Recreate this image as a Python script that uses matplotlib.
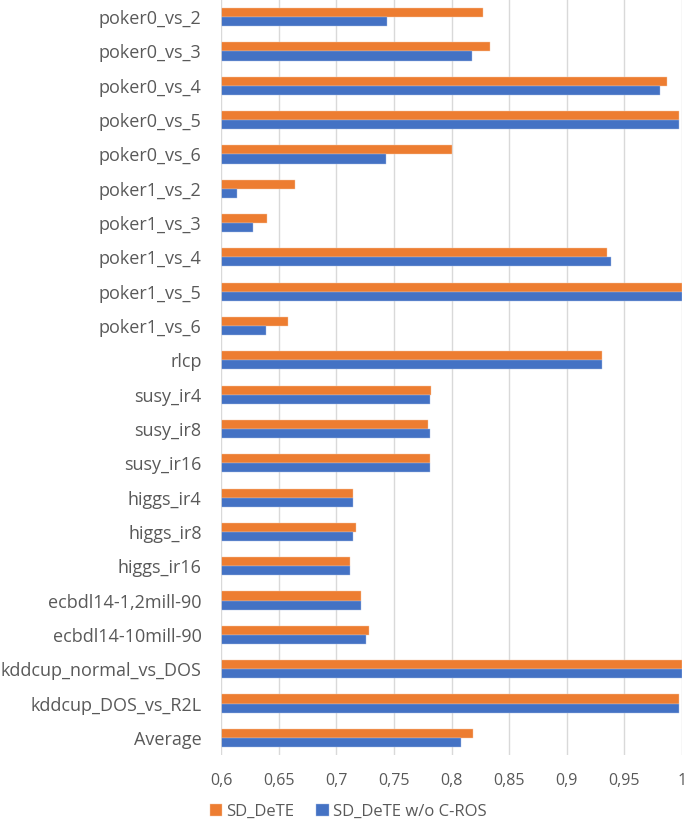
import matplotlib
matplotlib.use("Agg")
import matplotlib.pyplot as plt
import numpy as np

plt.rcParams['font.family'] = ['Open Sans', 'DejaVu Sans']

categories = ["poker0_vs_2", "poker0_vs_3", "poker0_vs_4", "poker0_vs_5", "poker0_vs_6",
              "poker1_vs_2", "poker1_vs_3", "poker1_vs_4", "poker1_vs_5", "poker1_vs_6",
              "rlcp", "susy_ir4", "susy_ir8", "susy_ir16", "higgs_ir4", "higgs_ir8",
              "higgs_ir16", "ecbdl14-1,2mill-90", "ecbdl14-10mill-90",
              "kddcup_normal_vs_DOS", "kddcup_DOS_vs_R2L", "Average"]
sd_dete = [0.827, 0.833, 0.987, 0.997, 0.800, 0.664, 0.640, 0.935, 1.0, 0.658,
           0.931, 0.7825, 0.780, 0.781, 0.7145, 0.7174, 0.7117, 0.7218, 0.728,
           1.0, 0.997, 0.819]
sd_dete_wo = [0.744, 0.818, 0.981, 0.997, 0.743, 0.614, 0.628, 0.938, 1.0, 0.639,
              0.931, 0.781, 0.781, 0.781, 0.7145, 0.7145, 0.7117, 0.7218, 0.726,
              1.0, 0.997, 0.808]
xticks = [0.6, 0.65, 0.7, 0.75, 0.8, 0.85, 0.9, 0.95, 1.0]
xtick_labels = ["0,6", "0,65", "0,7", "0,75", "0,8", "0,85", "0,9", "0,95", "1"]

orange = "#ED7D31"
blue = "#4472C4"
gray_text = "#595959"

fig = plt.figure(figsize=(6.85, 8.19), dpi=100)
ax = fig.add_axes([221 / 685, 64 / 819, 461 / 685, 755 / 819])

n = len(categories)
y = np.arange(n)
h = 0.265
ax.barh(y - h / 2, sd_dete, height=h, left=0, color=orange, label="SD_DeTE",
        edgecolor="#F6C9A8", linewidth=0.3, zorder=3)
ax.barh(y + h / 2, sd_dete_wo, height=h, left=0, color=blue, label="SD_DeTE w/o C-ROS",
        edgecolor="#A9BDE5", linewidth=0.3, zorder=3)

ax.set_xlim(0.6, 1.0)
ax.set_ylim(n - 0.5, -0.5)
ax.set_yticks(y)
ax.set_yticklabels(categories, fontsize=13, color=gray_text)
ax.set_xticks(xticks)
ax.set_xticklabels(xtick_labels, fontsize=11.5, color=gray_text)
ax.tick_params(axis='both', length=0)
ax.tick_params(axis='y', pad=14)
ax.tick_params(axis='x', pad=13)
ax.grid(axis='x', color="#D9D9D9", linewidth=1, zorder=0)
for s in ax.spines.values():
    s.set_visible(False)
ax.axvline(0.6, color="#D9D9D9", linewidth=1.2, zorder=4)

handles, labels = ax.get_legend_handles_labels()
leg = fig.legend(handles, labels, loc='center', bbox_to_anchor=(0.508, 7 / 819),
                 ncol=2, frameon=False, fontsize=12, handlelength=0.75, handleheight=0.75,
                 handletextpad=0.25, columnspacing=1.3)
for t in leg.get_texts():
    t.set_color(gray_text)

fig.savefig("out.png", dpi=100)
